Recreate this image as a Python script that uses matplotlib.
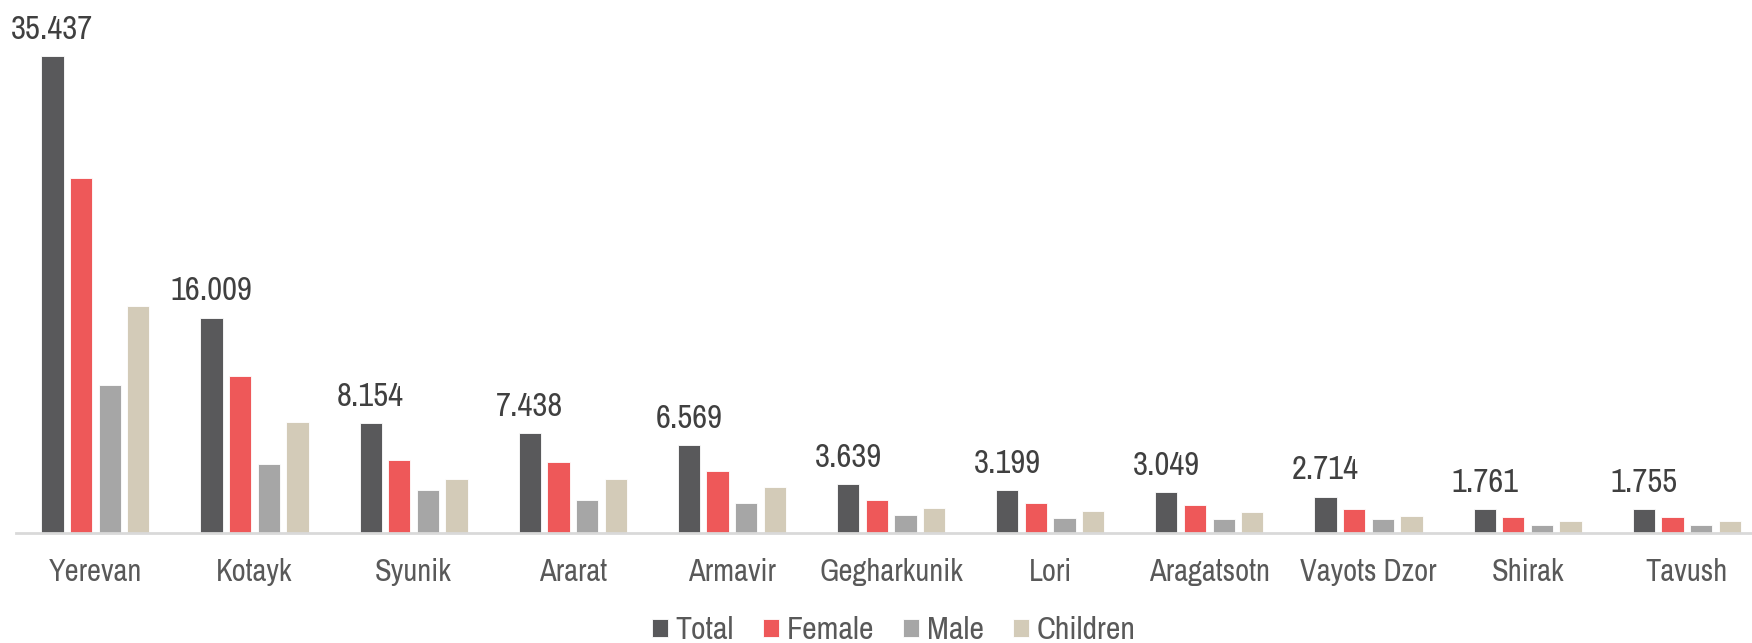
import numpy as np
import matplotlib
matplotlib.use("Agg")
import matplotlib.pyplot as plt

regions = ["Yerevan", "Kotayk", "Syunik", "Ararat", "Armavir", "Gegharkunik",
           "Lori", "Aragatsotn", "Vayots Dzor", "Shirak", "Tavush"]
total = [35.437, 16.009, 8.154, 7.438, 6.569, 3.639, 3.199, 3.049, 2.714, 1.761, 1.755]
female = [26.4, 11.7, 5.40, 5.29, 4.62, 2.42, 2.22, 2.12, 1.77, 1.17, 1.17]
male = [11.0, 5.16, 3.17, 2.47, 2.25, 1.37, 1.12, 1.05, 1.05, 0.62, 0.57]
children = [16.9, 8.25, 3.99, 4.0, 3.45, 1.87, 1.65, 1.57, 1.30, 0.87, 0.87]

series = [("Total", total, "#59595b"),
          ("Female", female, "#ee5859"),
          ("Male", male, "#a6a6a6"),
          ("Children", children, "#d3cbb8")]

# narrow grotesque, close to the original's Arial Narrow
plt.rcParams['font.family'] = ['Archivo Narrow', 'DejaVu Sans']

fig = plt.figure(figsize=(17.52, 6.43), dpi=100)
ax = fig.add_axes([0.009, 0.171, 0.991, 0.829])

x = np.arange(len(regions))
pitch = 0.18
width = 0.14
for i, (name, vals, col) in enumerate(series):
    bars = ax.bar(x + (i - 1.5) * pitch, vals, width, color=col, label=name,
                  edgecolor="white", linewidth=0.6)
    if name == "Total":
        for b, v in zip(bars, vals):
            ax.annotate(f"{v:.3f}", (b.get_x() + b.get_width() / 2, v),
                        xytext=(0, 8), textcoords="offset points",
                        ha="center", va="bottom", fontsize=23.5, color="#404040")

ax.set_xlim(-0.5, 10.41)
ax.set_ylim(0, 39.6)
ax.set_xticks(x)
ax.set_xticklabels(regions, fontsize=22, color="#595959")
ax.tick_params(axis="x", length=0, pad=18)
ax.set_yticks([])
for s in ["top", "right", "left"]:
    ax.spines[s].set_visible(False)
ax.spines["bottom"].set_color("#d9d9d9")
ax.spines["bottom"].set_linewidth(2)

fig.legend(loc="lower center", bbox_to_anchor=(0.51, -0.047), ncol=4, frameon=False,
           fontsize=23, handlelength=0.5, handleheight=0.5, handletextpad=0.25,
           columnspacing=0.9, labelcolor="#595959")

fig.savefig("out.png", dpi=100)
